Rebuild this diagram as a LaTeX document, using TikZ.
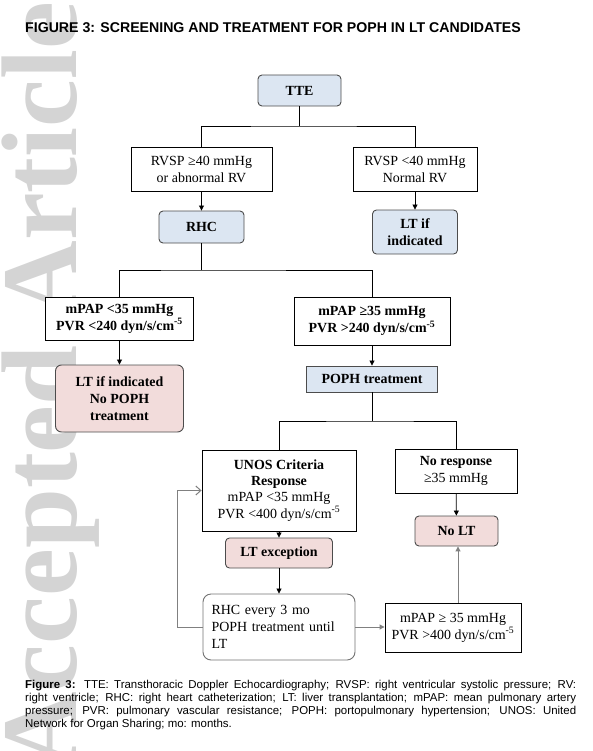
\documentclass[tikz,border=0pt]{standalone}
\usepackage{fontspec}
\setmainfont{Liberation Serif}
\newfontfamily\capfont{Liberation Sans}
\usetikzlibrary{arrows.meta}
\definecolor{stepblue}{HTML}{DCE6F2}
\definecolor{steppink}{HTML}{F2DCDB}
\newcommand\boxfont{\fontsize{14}{17}\selectfont}

\begin{document}
\begin{tikzpicture}[
  x=1bp, y=-1bp,
  font=\boxfont,
  box/.style={draw, fill=white, align=center, inner sep=1bp, line width=0.9bp},
  bold/.style={font=\boxfont\bfseries},
  bluebox/.style={box, bold, draw=black!70, fill=stepblue, rounded corners=4bp},
  pinkbox/.style={box, bold, draw=black!70, fill=steppink, rounded corners=6bp},
  link/.style={line width=0.8bp},
  back/.style={line width=1bp, draw=black!50},
  >={Triangle[length=5bp,width=5bp]},
]
  % watermark
  \begin{scope}
    \clip (0,0) rectangle (593,751);
    \node[rotate=90, anchor=base west, inner sep=0, text=black!17,
      font=\fontsize{108}{108}\selectfont\bfseries] (mark) at (76,770) {Accepted Article};
  \end{scope}
  \useasboundingbox (0,0) rectangle (593,751);

  \node[anchor=base west, inner sep=0, font=\capfont\bfseries\fontsize{14.2}{16}\selectfont]
    (title) at (25,33) {FIGURE 3: SCREENING AND TREATMENT FOR POPH IN LT CANDIDATES};

  \node[bluebox, minimum width=83bp, minimum height=31bp] (tte) at (299.5,90.5) {TTE};
  \node[box, minimum width=141bp, minimum height=44bp] (rvsphi) at (201.5,169) {RVSP ≥40 mmHg\\or abnormal RV};
  \node[box, minimum width=124bp, minimum height=44bp] (rvsplo) at (415,169) {RVSP <40 mmHg\\Normal RV};
  \node[bluebox, minimum width=85bp, minimum height=32bp] (rhc) at (201.5,227) {RHC};
  \node[bluebox, minimum width=85bp, minimum height=44bp] (ltif) at (415,232) {LT if\\indicated};
  \node[box, bold, minimum width=148bp, minimum height=43bp] (mpaplo) at (119.5,318.5) {mPAP <35 mmHg\\PVR <240 dyn/s/cm\textsuperscript{-5}};
  \node[box, bold, minimum width=156bp, minimum height=48bp] (mpaphi) at (372,321) {mPAP ≥35 mmHg\\PVR >240 dyn/s/cm\textsuperscript{-5}};
  \node[pinkbox, minimum width=128bp, minimum height=67bp] (nopoph) at (119.5,398.5) {LT if indicated\\No POPH\\treatment};
  \node[box, bold, draw=black!70, fill=stepblue, minimum width=131bp, minimum height=26bp] (poph) at (372,379) {POPH treatment};
  \node[box, minimum width=154bp, minimum height=81bp, font=\fontsize{14}{16.3}\selectfont] (unos) at (279,490.5) {\textbf{UNOS Criteria}\\\textbf{Response}\\mPAP <35 mmHg\\PVR <400 dyn/s/cm\textsuperscript{-5}};
  \node[box, minimum width=122bp, minimum height=44bp] (noresp) at (456,471) {\textbf{No response}\\≥35 mmHg};
  \node[pinkbox, rounded corners=4bp, minimum width=83bp, minimum height=30bp] (nolt) at (456.5,531) {No LT};
  \node[pinkbox, rounded corners=4bp, minimum width=107bp, minimum height=30bp] (ltexc) at (279,553) {LT exception};
  \node[box, draw=black!55, rounded corners=8bp, align=left, text width=135bp, minimum width=152bp, minimum height=66bp] (rhcq) at (279,627) {RHC every 3 mo\\POPH treatment until\\LT};
  \node[box, minimum width=136bp, minimum height=49bp] (fail) at (453,627.5) {mPAP ≥ 35 mmHg\\PVR >400 dyn/s/cm\textsuperscript{-5}};

  % forks
  \coordinate (fork1) at (tte.south |- 0,126);
  \coordinate (fork2) at (rhc.south |- 0,270);
  \coordinate (fork3) at (poph.south |- 0,421);
  \draw[link] (tte) -- (fork1);
  \draw[link] (rvsphi.north) |- (fork1) -| (rvsplo.north);
  \draw[link] (rhc) -- (fork2);
  \draw[link] (mpaplo.north) |- (fork2) -| (mpaphi.north);
  \draw[link] (poph) -- (fork3);
  \draw[link] (unos.north) |- (fork3) -| (noresp.north);

  \foreach \a/\b in {rvsphi/rhc,rvsplo/ltif,mpaplo/nopoph,mpaphi/poph,unos/ltexc,noresp/nolt,ltexc/rhcq}
    \draw[link,->] (\a) -- (\b);
  \draw[back,->] (rhcq.east) -- (rhcq.east -| fail.west);
  \draw[back,->] (fail.north -| 458,0) -- (nolt.south -| 458,0);
  \draw[back,-{Straight Barb[length=5bp,width=9bp]}] (rhcq.west) -- ++(-25,0) |- (unos.west);

  \node[anchor=north west, inner sep=0, align=left, font=\capfont\fontsize{11.5}{13.3}\selectfont] (caption) at (25,679.5)
    {\makebox[551bp][s]{\textbf{Figure 3:} TTE: Transthoracic Doppler Echocardiography; RVSP: right ventricular systolic pressure; RV:}\\
     \makebox[551bp][s]{right ventricle; RHC: right heart catheterization; LT: liver transplantation; mPAP: mean pulmonary artery}\\
     \makebox[551bp][s]{pressure; PVR: pulmonary vascular resistance; POPH: portopulmonary hypertension; UNOS: United}\\
     Network for Organ Sharing; mo: months.};
\end{tikzpicture}
\end{document}
